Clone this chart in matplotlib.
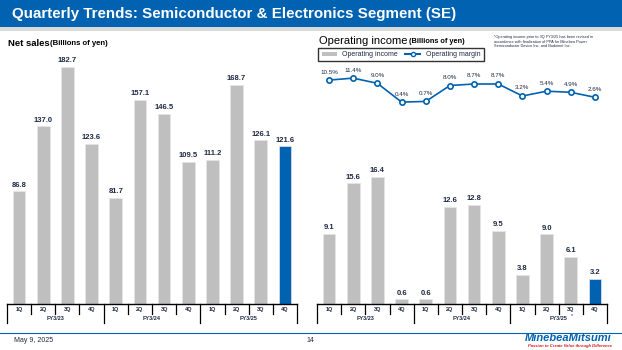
import matplotlib
matplotlib.use('Agg')
import matplotlib.pyplot as plt
import matplotlib.transforms as mtransforms
from matplotlib.patches import Rectangle
from matplotlib.lines import Line2D

plt.rcParams['font.family'] = ['Liberation Sans', 'DejaVu Sans']

# data
quarters = ['1Q', '2Q', '3Q', '4Q'] * 3
fiscal_years = ['FY3/23', 'FY3/24', 'FY3/25']
net_sales = [86.8, 137.0, 182.7, 123.6, 81.7, 157.1, 146.5, 109.5, 111.2, 168.7, 126.1, 121.6]
op_income = [9.1, 15.6, 16.4, 0.6, 0.6, 12.6, 12.8, 9.5, 3.8, 9.0, 6.1, 3.2]
op_margin = [10.5, 11.4, 9.0, 0.4, 0.7, 8.0, 8.7, 8.7, 3.2, 5.4, 4.9, 2.6]

BLUE = '#0062B1'
GRAY = '#BFBFBF'
NAVY = '#1F2A44'

W, H = 622, 350
fig = plt.figure(figsize=(W / 100, H / 100), dpi=100)
fig.patch.set_facecolor('white')


def fx(px):
    return px / W


def fy(py):
    return 1 - py / H


# header bar
fig.patches.append(Rectangle((0, fy(27)), 1, 27 / H, transform=fig.transFigure,
                             facecolor=BLUE, edgecolor='none', zorder=0))
fig.patches.append(Rectangle((0, fy(31)), 1, 4 / H, transform=fig.transFigure,
                             facecolor='#D9D9D9', edgecolor='none', zorder=0))
fig.text(fx(12), fy(14), 'Quarterly Trends: Semiconductor & Electronics Segment (SE)',
         color='white', fontsize=10.9, fontweight='bold', va='center', ha='left')

x = list(range(len(quarters)))
colors = [GRAY] * (len(x) - 1) + [BLUE]


def category_axis(ax):
    ax.set_xlim(-0.5, len(x) - 0.5)
    for s in ['top', 'right', 'left']:
        ax.spines[s].set_visible(False)
    ax.spines['bottom'].set_color('black')
    ax.spines['bottom'].set_linewidth(1.0)
    ax.set_xticks([])
    ax.set_yticks([])
    tr = mtransforms.blended_transform_factory(ax.transData, ax.transAxes)
    for b in range(len(x) + 1):
        edge = b - 0.5
        long = (b % 4 == 0)
        ax.plot([edge, edge], [0, -0.078 if long else -0.042], color='black', lw=0.9,
                transform=tr, clip_on=False)
    for i, q in enumerate(quarters):
        ax.text(i, -0.021, q, transform=tr, ha='center', va='center', fontsize=4,
                fontweight='bold', color=NAVY)
    for g, fyl in enumerate(fiscal_years):
        ax.text(g * 4 + 1.5, -0.06, fyl, transform=tr, ha='center', va='center', fontsize=4,
                fontweight='bold', color=NAVY)


# net sales
ax1 = fig.add_axes([fx(7), 46 / H, fx(290), 249 / H])
ax1.bar(x, net_sales, width=0.52, color=colors, edgecolor='#E6E6E6', linewidth=0.5)
ax1.set_ylim(0, 192)
category_axis(ax1)
for i, v in enumerate(net_sales):
    ax1.annotate(f'{v:.1f}', (i, v), xytext=(0, 2), textcoords='offset points',
                 ha='center', va='bottom', fontsize=5.5, fontweight='bold', color=NAVY)
fig.text(fx(8), fy(43), 'Net sales', fontsize=6.8, fontweight='bold', va='center', ha='left')
fig.text(fx(50), fy(43.5), '(Billions of yen)', fontsize=5.6, fontweight='bold', va='center', ha='left')

# operating income
ax2 = fig.add_axes([fx(317), 46 / H, fx(290), 249 / H])
ax2.bar(x, op_income, width=0.52, color=colors, edgecolor='#E6E6E6', linewidth=0.5)
ax2.set_ylim(0, 32.2)
category_axis(ax2)
for i, v in enumerate(op_income):
    ax2.annotate(f'{v:.1f}', (i, v), xytext=(0, 2), textcoords='offset points',
                 ha='center', va='bottom', fontsize=5.5, fontweight='bold', color=NAVY)

ax3 = ax2.twinx()
ax3.set_ylim(-92.2, 22)
ax3.axis('off')
ax3.plot(x, op_margin, color=BLUE, lw=1.2, marker='o', markersize=3.8,
         markerfacecolor='white', markeredgecolor=BLUE, markeredgewidth=1.2)
for i, v in enumerate(op_margin):
    ax3.annotate(f'{v:.1f}%', (i, v), xytext=(0, 4), textcoords='offset points',
                 ha='center', va='bottom', fontsize=4.5, color=NAVY)

fig.text(fx(319), fy(41), 'Operating income', fontsize=8, va='center', ha='left')
fig.text(fx(409), fy(41.5), '(Billions of yen)', fontsize=5.3, fontweight='bold', va='center', ha='left')
fig.text(fx(571), fy(316), '*', fontsize=4, ha='left', va='center', color=NAVY)

handles = [Rectangle((0, 0), 1, 1, facecolor=GRAY, edgecolor='none'),
           Line2D([], [], color=BLUE, lw=1.5, marker='o', markersize=3,
                  markerfacecolor='white', markeredgecolor=BLUE)]
leg = fig.legend(handles, ['Operating income', 'Operating margin'], ncol=2,
                 loc='center', bbox_to_anchor=(fx(401), fy(54.5)), fontsize=5,
                 frameon=True, fancybox=False, edgecolor='black', handlelength=2.2,
                 handleheight=0.5, columnspacing=1.0, borderpad=0.45)
leg.get_frame().set_linewidth(1.0)
for t in leg.get_texts():
    t.set_color(NAVY)

fig.text(fx(494), fy(35),
         '*Operating income prior to 3Q FY3/25 has been revised in\n'
         'accordance with finalization of PPA for Minebea Power\n'
         'Semiconductor Device Inc. and Bodoinet Inc.',
         fontsize=2.8, va='top', ha='left', color=NAVY, linespacing=1.2)

# footer
fig.add_artist(Line2D([0, 1], [fy(333), fy(333)], color=BLUE, lw=0.8, transform=fig.transFigure))
fig.text(fx(14), fy(341), 'May 9, 2025', fontsize=5, va='center', ha='left', color=NAVY)
fig.text(fx(310), fy(341), '14', fontsize=5, va='center', ha='center', color=NAVY)
fig.text(fx(612), fy(338), 'MinebeaMitsumi', fontsize=8, fontweight='bold', style='italic',
         va='center', ha='right', color=BLUE)
fig.text(fx(612), fy(346), 'Passion to Create Value through Difference', fontsize=3,
         fontweight='bold', style='italic', va='center', ha='right', color='#D7141A')

fig.savefig('out.png', dpi=100, facecolor='white')
